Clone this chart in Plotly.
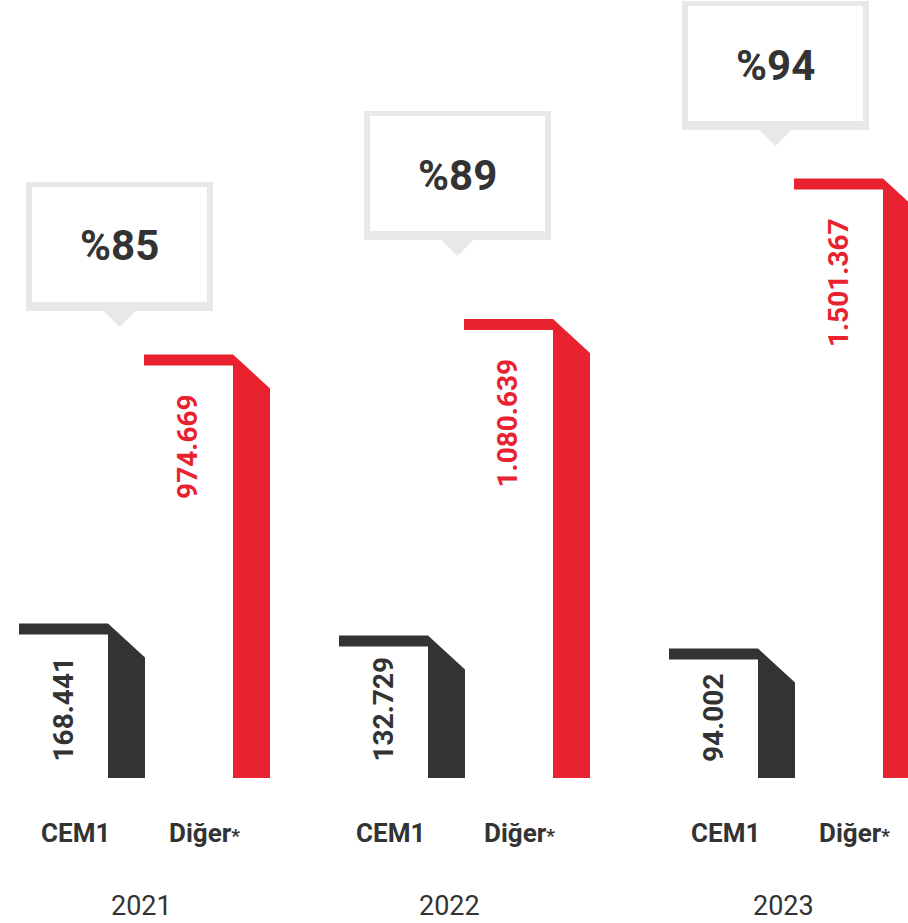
import plotly.graph_objects as go

years = ["2021", "2022", "2023"]
series = ["CEM1", "Diğer*"]
cem1 = [168441, 132729, 94002]
diger = [974669, 1080639, 1501367]
share_pct = [85, 89, 94]

W, H = 908, 923
DARK = "#333333"
RED = "#e8232f"
GREY = "#e8e8e8"

# vertical scale: pixels per unit, floor value sits on pixel row 778
PX_PER_UNIT = 0.33387e-3
BASE_ROW = 778
FLOOR = -294000
Y_MAX = FLOOR + BASE_ROW / PX_PER_UNIT
Y_MIN = FLOOR - (H - BASE_ROW) / PX_PER_UNIT

# horizontal layout (pixels)
group_left = [19, 339, 669]
red_shift = 125
cap_len, stem_w, bevel, cap_h = 89, 37, 34, 11
cem_label_x = [75, 390, 725]
diger_label_x = [204, 519, 854]
year_label_x = [141, 449, 783]
box_left = [26, 364, 682]
box_top = [182, 111, 1]
box_w, box_h = 187, 129


def px(n):
    return n / PX_PER_UNIT


def pap(r):
    return 1 - r / H


def small_star(s):
    # the asterisk is set smaller in the original
    if s.endswith("*"):
        return s[:-1] + "<span style='font-size:19px'>*</span>"
    return s


def bar_trace(x0, value, color):
    xs = x0 + cap_len
    xe = xs + stem_w
    x = [x0, xs, xe, xe, xs, xs, x0, x0]
    y = [value, value, value - px(bevel), FLOOR, FLOOR,
         value - px(cap_h), value - px(cap_h), value]
    return go.Scatter(x=x, y=y, mode="lines", fill="toself", fillcolor=color,
                      line=dict(color=color, width=0), hoverinfo="skip",
                      showlegend=False)


fig = go.Figure()
annotations = []
shapes = []

for i, yr in enumerate(years):
    xc = group_left[i]
    xr = xc + red_shift
    fig.add_trace(bar_trace(xc, cem1[i], DARK))
    fig.add_trace(bar_trace(xr, diger[i], RED))

    # value labels, rotated
    annotations.append(dict(
        x=xc + 44, y=FLOOR + px(14), xref="x", yref="y",
        text=f"{cem1[i]:,}".replace(",", "."), textangle=-90, showarrow=False,
        xanchor="center", yanchor="bottom",
        font=dict(family="Roboto", size=28, color=DARK, weight="bold")))
    annotations.append(dict(
        x=xr + 44, y=diger[i] - px(38), xref="x", yref="y",
        text=f"{diger[i]:,}".replace(",", "."), textangle=-90, showarrow=False,
        xanchor="center", yanchor="top",
        font=dict(family="Roboto", size=28, color=RED, weight="bold")))

    # category + year labels
    annotations.append(dict(
        x=cem_label_x[i], y=pap(833), xref="x", yref="paper", text=series[0],
        showarrow=False, xanchor="center", yanchor="middle",
        font=dict(family="Roboto", size=26, color=DARK, weight="bold")))
    annotations.append(dict(
        x=diger_label_x[i], y=pap(833), xref="x", yref="paper",
        text=small_star(series[1]),
        showarrow=False, xanchor="center", yanchor="middle",
        font=dict(family="Roboto", size=26, color=DARK, weight="bold")))
    annotations.append(dict(
        x=year_label_x[i], y=pap(906), xref="x", yref="paper", text=yr,
        showarrow=False, xanchor="center", yanchor="middle",
        font=dict(family="Roboto", size=27, color=DARK)))

    # callout box
    bl, bt = box_left[i], box_top[i]
    bc = bl + box_w / 2
    shapes.append(dict(type="rect", xref="x", yref="paper",
                       x0=bl, x1=bl + box_w, y0=pap(bt + box_h), y1=pap(bt),
                       fillcolor=GREY, line=dict(width=0), layer="below"))
    shapes.append(dict(type="rect", xref="x", yref="paper",
                       x0=bl + 6, x1=bl + box_w - 6, y0=pap(bt + 120), y1=pap(bt + 5),
                       fillcolor="white", line=dict(width=0), layer="below"))
    shapes.append(dict(type="path", xref="x", yref="paper",
                       path=f"M {bc - 16} {pap(bt + box_h)} L {bc + 16} {pap(bt + box_h)} "
                            f"L {bc} {pap(bt + box_h + 16)} Z",
                       fillcolor=GREY, line=dict(width=0), layer="below"))
    annotations.append(dict(
        x=bc, y=pap(bt + 64), xref="x", yref="paper", text=f"%{share_pct[i]}",
        showarrow=False, xanchor="center", yanchor="middle",
        font=dict(family="Roboto", size=42, color=DARK, weight="bold")))

fig.update_layout(
    width=W, height=H,
    margin=dict(l=0, r=0, t=0, b=0),
    paper_bgcolor="white", plot_bgcolor="white",
    xaxis=dict(range=[0, W], visible=False, fixedrange=True),
    yaxis=dict(range=[Y_MIN, Y_MAX], visible=False, fixedrange=True),
    annotations=annotations, shapes=shapes,
    showlegend=False,
)

fig.write_html("out.html", config={"displayModeBar": False},
               post_script="document.body.style.margin='0px';")
